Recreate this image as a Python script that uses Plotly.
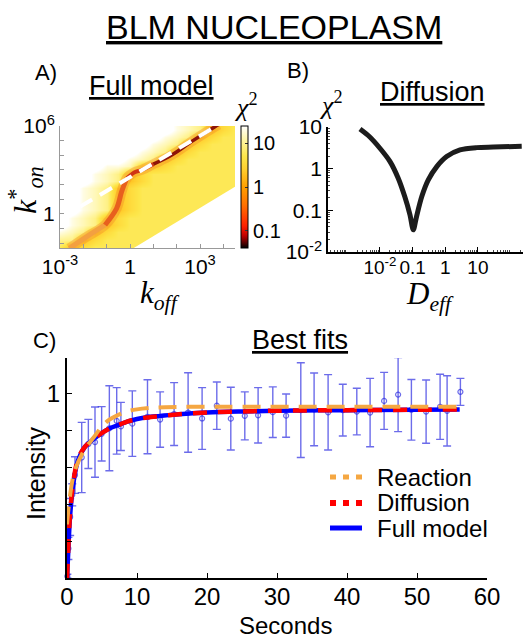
import plotly.graph_objects as go

W, H = 523, 638
def px(x):
    return x / W
def py(y):
    return 1 - y / H

SANS = "Liberation Sans, Arial, sans-serif"
SERIF = "Liberation Serif, Times New Roman, serif"

# ---------------- Panel A: full model chi^2 landscape (log10 chi^2) ----------------
logkoff = [-3, -2.5, -2, -1.5, -1, -0.5, 0, 0.5, 1, 1.5, 2, 2.5, 3, 3.5, 4, 4.5]
logkon = [-2.25, -1.75, -1.25, -0.75, -0.25, 0.25, 0.75, 1.25, 1.75, 2.25,
          2.75, 3.25, 3.75, 4.25, 4.75, 5.25, 5.75]
log_chi2_full = [
    [0.75, 0.3, 0.55, 0.75, 0.75, 0.75, 0.75, 0.75, 0.75, 0.75, 0.75, 0.75, 0.75, 0.75, 0.75, 0.75],
    [1.0, 0.95, 0.3, 0.55, 0.75, 0.75, 0.75, 0.75, 0.75, 0.75, 0.75, 0.75, 0.75, 0.75, 0.75, 0.75],
    [1.3, 1.15, 0.95, 0.3, 0.55, 0.75, 0.75, 0.75, 0.75, 0.75, 0.75, 0.75, 0.75, 0.75, 0.75, 0.75],
    [1.6, 1.3, 1.15, 0.95, 0.3, 0.55, 0.75, 0.75, 0.75, 0.75, 0.75, 0.75, 0.75, 0.75, 0.75, 0.75],
    [1.6, 1.3, 1.15, 0.95, 0.3, 0.55, 0.75, 0.75, 0.75, 0.75, 0.75, 0.75, 0.75, 0.75, 0.75, 0.75],
    [1.6, 1.6, 1.3, 1.15, 0.95, 0.3, 0.55, 0.75, 0.75, 0.75, 0.75, 0.75, 0.75, 0.75, 0.75, 0.75],
    [1.6, 1.6, 1.3, 1.15, 0.95, 0.3, 0.55, 0.75, 0.75, 0.75, 0.75, 0.75, 0.75, 0.75, 0.75, 0.75],
    [1.6, 1.6, 1.3, 1.15, 0.95, 0.3, 0.55, 0.75, 0.75, 0.75, 0.75, 0.75, 0.75, 0.75, 0.75, 0.75],
    [1.6, 1.6, 1.3, 1.15, 0.95, 0.3, 0.55, 0.75, 0.75, 0.75, 0.75, 0.75, 0.75, 0.75, 0.75, 0.75],
    [1.6, 1.6, 1.6, 1.3, 1.15, 0.95, 0.3, 0.55, 0.75, 0.75, 0.75, 0.75, 0.75, 0.75, 0.75, 0.75],
    [1.6, 1.6, 1.6, 1.3, 1.15, 0.95, 0.3, 0.55, 0.75, 0.75, 0.75, 0.75, 0.75, 0.75, 0.75, 0.75],
    [1.6, 1.6, 1.6, 1.6, 1.3, 1.3, 1.15, 0.45, 0.35, 0.55, 0.75, 0.75, 0.75, 0.75, 0.75, 0.75],
    [1.6, 1.6, 1.6, 1.6, 1.6, 1.6, 1.3, 1.15, 0.95, 0.3, 0.55, 0.75, 0.75, 0.75, 0.75, 0.75],
    [1.6, 1.6, 1.6, 1.6, 1.6, 1.6, 1.6, 1.3, 1.15, 0.95, 0.3, 0.55, 0.75, 0.75, 0.75, 0.75],
    [1.6, 1.6, 1.6, 1.6, 1.6, 1.6, 1.6, 1.6, 1.3, 1.15, 0.95, 0.3, 0.55, 0.75, 0.75, 0.75],
    [1.6, 1.6, 1.6, 1.6, 1.6, 1.6, 1.6, 1.6, 1.6, 1.3, 1.15, 0.95, 0.3, 0.55, 0.75, 0.75],
    [1.6, 1.6, 1.6, 1.6, 1.6, 1.6, 1.6, 1.6, 1.6, 1.6, 1.3, 1.15, 0.95, 0.3, 0.55, 0.75],
]
# bottom of the chi^2 valley (minimum ridge)
valley_logkoff = [-2.6, -1.9, -1.07, -0.57, -0.36, -0.14, 0.2, 0.5, 1.0, 1.79, 2.7, 3.64, 3.8]
valley_logkon = [-2.35, -1.6, -0.75, 0.39, 1.52, 2.43, 2.85, 3.0, 3.4, 4.02, 5.0, 5.95, 6.1]
# edge of the explored parameter region (no data below/right of it)
edge_logkoff = [-0.2, 4.8]
edge_logkon = [-2.67, 2.15]
# white dashed line (best-fit ratio)
fit_logkoff = [-2.14, 3.71]
fit_logkon = [0.5, 6.0]

# ---------------- Panel B: diffusion chi^2 ----------------
D_eff = [0.00245, 0.0049, 0.01, 0.0204, 0.0363, 0.0575, 0.0832, 0.105, 0.132,
         0.191, 0.302, 0.55, 1.1, 2.82, 9.1, 29.5, 219]
chi2_diff = [8.9, 5.75, 3.09, 1.48, 0.59, 0.214, 0.078, 0.034, 0.071,
             0.214, 0.537, 1.12, 1.95, 2.82, 3.2, 3.3, 3.45]

# ---------------- Panel C: best fits ----------------
t_data = [0.05, 0.2, 0.45, 0.75, 1.14, 2.1, 3.05, 4.0, 4.95, 6.05, 7.1, 7.7, 9.33,
          11.5, 13.3, 15.3, 17.3, 19.3, 21.4, 23.4, 25.4, 27.3, 29.4, 31.3, 33.4,
          35.3, 37.3, 39.4, 41.4, 43.3, 45.3, 47.3, 49.2, 51.3, 53.3, 54.3, 56.2]
I_data = [0.01, 0.16, 0.33, 0.45, 0.557, 0.652, 0.725, 0.735, 0.78, 0.81, 0.85, 0.82, 0.835,
          0.872, 0.857, 0.887, 0.895, 0.863, 0.932, 0.862, 0.877, 0.88, 0.897, 0.878, 0.908,
          0.912, 0.896, 0.908, 0.9, 0.895, 0.958, 0.992, 0.91, 0.9, 0.926, 0.904, 1.007]
I_err = [0.01, 0.06, 0.1, 0.06, 0.099, 0.19, 0.133, 0.19, 0.147, 0.23, 0.18, 0.13, 0.177,
         0.2, 0.15, 0.17, 0.215, 0.167, 0.128, 0.17, 0.13, 0.15, 0.137, 0.117, 0.256,
         0.197, 0.204, 0.14, 0.126, 0.185, 0.154, 0.2, 0.164, 0.171, 0.176, 0.19, 0.073]

t_full = [0, 0.19, 0.43, 0.9, 1.6, 2.57, 3.76, 5.0, 6.1, 7.5, 8.5, 10, 11.4, 13.3,
          16, 20, 25, 30, 40, 50, 56.1]
I_full = [0, 0.15, 0.33, 0.51, 0.64, 0.71, 0.75, 0.785, 0.81, 0.83, 0.845, 0.86, 0.87,
          0.877, 0.886, 0.895, 0.901, 0.905, 0.908, 0.91, 0.912]
t_diff = [0, 0.19, 0.43, 0.9, 1.6, 2.57, 3.76, 5.0, 6.1, 7.5, 8.5, 10, 11.4, 13.3,
          16, 20, 25, 30, 40, 50, 56.1]
I_diff = [0, 0.16, 0.34, 0.52, 0.645, 0.71, 0.75, 0.785, 0.81, 0.83, 0.845, 0.858, 0.868,
          0.876, 0.886, 0.895, 0.901, 0.905, 0.908, 0.91, 0.912]
t_react = [0, 0.2, 0.45, 0.9, 1.4, 2.0, 2.8, 3.8, 5.0, 6.0, 7.2, 8.5, 10, 12, 14, 18,
           25, 35, 45, 56.1]
I_react = [0.29, 0.37, 0.45, 0.55, 0.61, 0.66, 0.71, 0.76, 0.82, 0.855, 0.88, 0.9, 0.912,
           0.92, 0.924, 0.926, 0.926, 0.926, 0.926, 0.926]

legend_names = ["Reaction", "Diffusion", "Full model"]
legend_colors = ["#f5a742", "#ff0000", "#0000ff"]

hot = [
    [0.0, "#000000"], [0.04, "#500000"], [0.10, "#c00000"], [0.18, "#ff2000"],
    [0.35, "#ff7000"], [0.5, "#ffa000"], [0.65, "#ffd030"], [0.75, "#fde64a"],
    [0.88, "#fff5a0"], [1.0, "#ffffff"],
]

fig = go.Figure()

# Panel A
fig.add_trace(go.Heatmap(
    x=logkoff, y=logkon, z=log_chi2_full, zmin=-1.4, zmax=1.4, zsmooth="best",
    colorscale=hot, xaxis="x", yaxis="y", hoverinfo="skip",
    colorbar=dict(x=px(241), xanchor="left", xpad=0, y=py(187), yanchor="middle", ypad=0,
                  len=122 / H, lenmode="fraction", thickness=7, thicknessmode="pixels",
                  outlinewidth=1, outlinecolor="black",
                  tickvals=[-1, 0, 1], ticktext=["0.1", "1", "10"], ticks="inside",
                  ticklen=3, tickcolor="#333",
                  tickfont=dict(size=20, family=SANS, color="black")),
))
# valley of the chi^2 surface: soft halo + core coloured by depth
valley_segments = [
    (0, 3, "#f3a040", 5),
    (2, 6, "#e8601e", 5),
    (5, 9, "#cf3515", 4),
    (8, 13, "#8e1408", 3.5),
]
fig.add_trace(go.Scatter(
    x=valley_logkoff, y=valley_logkon, mode="lines",
    line=dict(color="rgba(242,140,40,0.4)", width=10, shape="spline"),
    xaxis="x", yaxis="y", hoverinfo="skip", showlegend=False,
))
for i0, i1, col, lw in valley_segments:
    fig.add_trace(go.Scatter(
        x=valley_logkoff[i0:i1], y=valley_logkon[i0:i1], mode="lines",
        line=dict(color=col, width=lw, shape="spline"),
        xaxis="x", yaxis="y", hoverinfo="skip", showlegend=False,
    ))
fig.add_trace(go.Scatter(
    x=[edge_logkoff[0], edge_logkoff[1], edge_logkoff[1], edge_logkoff[0]],
    y=[edge_logkon[0], edge_logkon[1], edge_logkon[0], edge_logkon[0]],
    mode="lines", fill="toself", fillcolor="white", line=dict(width=0, color="white"),
    xaxis="x", yaxis="y", hoverinfo="skip", showlegend=False,
))
fig.add_trace(go.Scatter(
    x=fit_logkoff, y=fit_logkon, mode="lines",
    line=dict(color="white", width=4, dash="14px,9px"),
    xaxis="x", yaxis="y", hoverinfo="skip", showlegend=False,
))

# Panel B
fig.add_trace(go.Scatter(
    x=D_eff, y=chi2_diff, mode="lines",
    line=dict(color="#1c1c1c", width=5, shape="spline", smoothing=0.8),
    xaxis="x2", yaxis="y2", showlegend=False,
))

# Panel C
err_col = "rgba(45,45,225,0.7)"
fig.add_trace(go.Scatter(
    x=t_data, y=I_data, mode="markers",
    marker=dict(symbol="circle-open", size=5, color=err_col, line=dict(width=1.2)),
    error_y=dict(type="data", array=I_err, color=err_col, thickness=1.4, width=4),
    xaxis="x3", yaxis="y3", cliponaxis=False, showlegend=False,
))
fig.add_trace(go.Scatter(
    x=t_full, y=I_full, mode="lines", name=legend_names[2],
    line=dict(color=legend_colors[2], width=4.5, shape="spline"),
    xaxis="x3", yaxis="y3", showlegend=False,
))
fig.add_trace(go.Scatter(
    x=t_diff, y=I_diff, mode="lines", name=legend_names[1],
    line=dict(color=legend_colors[1], width=4.5, shape="spline", dash="14px,11px"),
    xaxis="x3", yaxis="y3", showlegend=False,
))
fig.add_trace(go.Scatter(
    x=t_react, y=I_react, mode="lines", name=legend_names[0],
    line=dict(color=legend_colors[0], width=4, shape="spline", dash="18px,10px"),
    xaxis="x3", yaxis="y3", showlegend=False,
))

# minor ticks for the log axes of panel B
minor_x = [m * 10.0 ** d for d in range(-4, 3) for m in range(2, 10)]
minor_y = [m * 10.0 ** d for d in range(-2, 1) for m in range(2, 10)]

axis_common = dict(showgrid=False, zeroline=False, ticks="inside", tickangle=0,
                   automargin=False)

fig.update_layout(
    width=W, height=H, margin=dict(l=0, r=0, t=0, b=0, autoexpand=False),
    paper_bgcolor="white", plot_bgcolor="rgba(0,0,0,0)", showlegend=False,
    font=dict(family=SANS, color="black"),
    xaxis=dict(domain=[px(60), px(235)], range=[-3, 4.5], anchor="y",
               tickmode="array", tickvals=list(range(-3, 5)),
               ticktext=["10<sup>-3</sup>", "", "", "1", "", "", "10<sup>3</sup>", ""],
               ticklen=4, tickcolor="#999", showline=True, linecolor="#999", linewidth=1,
               tickfont=dict(size=21, family=SANS), **axis_common),
    yaxis=dict(domain=[py(248), py(126)], range=[-2.32, 6], anchor="x",
               tickmode="array", tickvals=list(range(-2, 7)),
               ticktext=["", "", "1", "", "", "", "", "", "10<sup>6</sup>"],
               ticklen=4, tickcolor="#999", showline=True, linecolor="#999", linewidth=1,
               tickfont=dict(size=21, family=SANS), **axis_common),
    xaxis2=dict(domain=[px(328), 1.0], type="log", range=[-3.59, 2.38], anchor="y2",
                tickmode="array", tickvals=[0.01, 0.1, 1, 10],
                ticktext=["10<sup>-2</sup>", "0.1", "1", "10"],
                ticklen=5, tickcolor="black", showline=True, linecolor="black", linewidth=1.5,
                ticklabelstandoff=-3,
                minor=dict(tickmode="array", tickvals=minor_x, ticks="inside", ticklen=2.5,
                           tickcolor="#444", showgrid=False),
                tickfont=dict(size=19, family=SANS), **axis_common),
    yaxis2=dict(domain=[py(252), py(127)], type="log", range=[-2, 1], anchor="x2",
                tickmode="array", tickvals=[0.01, 0.1, 1, 10],
                ticktext=["10<sup>-2</sup>", "0.1", "1", "10"],
                ticklen=5, tickcolor="black", showline=True, linecolor="black", linewidth=1.5,
                minor=dict(tickmode="array", tickvals=minor_y, ticks="inside", ticklen=2.5,
                           tickcolor="#444", showgrid=False),
                tickfont=dict(size=21, family=SANS), **axis_common),
    xaxis3=dict(domain=[px(67), px(487)], range=[0, 60], anchor="y3",
                tickmode="linear", tick0=0, dtick=10,
                ticklen=5, tickcolor="black", showline=True, linecolor="black", linewidth=2,
                ticklabelstandoff=-4,
                tickfont=dict(size=24, family=SANS), **axis_common),
    yaxis3=dict(domain=[py(578), py(358)], range=[0, 1.19], anchor="x3",
                tickmode="array", tickvals=[0, 0.2, 0.4, 0.6, 0.8, 1.0],
                ticktext=["", "", "", "", "", "1"],
                ticklen=5, tickcolor="black", showline=True, linecolor="black", linewidth=2,
                tickfont=dict(size=24, family=SANS), **axis_common),
)

def ann(text, x, y, size, family=SANS, angle=0, xanchor="center"):
    fig.add_annotation(text=text, x=px(x), y=py(y), xref="paper", yref="paper",
                       showarrow=False, xanchor=xanchor, yanchor="middle", textangle=angle,
                       font=dict(size=size, family=family, color="black"))

ann("<u>BLM NUCLEOPLASM</u>", 274, 27, 34)
ann("A)", 46, 73, 22)
ann("<u>Full model</u>", 151, 86, 27)
ann("B)", 298, 70, 22)
ann("<u>Diffusion</u>", 432, 92, 27)
ann("C)", 44, 340, 22)
ann("<u>Best fits</u>", 300, 340, 27)
ann("<i>χ</i><sup>2</sup>", 246, 106, 26, SERIF)
ann("<i>χ</i><sup>2</sup>", 331, 104, 26, SERIF)
ann("<i>k</i><sup>*</sup><sub><i>on</i></sub>", 25, 190, 32, SERIF, angle=-90)
ann("<i>k</i><sub><i>off</i></sub>", 160, 295, 31, SERIF)
ann("<i>D</i><sub><i>eff</i></sub>", 430, 296, 31, SERIF)
ann("Intensity", 36, 473, 25, angle=-90)
ann("Seconds", 285, 625, 24)

# custom legend (compact rows, as in the original)
legend_rows = [477, 503, 528]
legend_dash = ["6px,7px", "6px,7px", "solid"]
legend_w = [5, 6, 5]
for name, col, yy, dsh, lw in zip(legend_names, legend_colors, legend_rows, legend_dash, legend_w):
    fig.add_shape(type="line", xref="paper", yref="paper", x0=px(330), x1=px(362),
                  y0=py(yy), y1=py(yy), line=dict(color=col, width=lw, dash=dsh))
    ann(name, 375, yy, 24, xanchor="left")

fig.write_html("out.html", config={"displayModeBar": False},
               post_script="document.body.style.margin='0';document.body.style.padding='0';")
